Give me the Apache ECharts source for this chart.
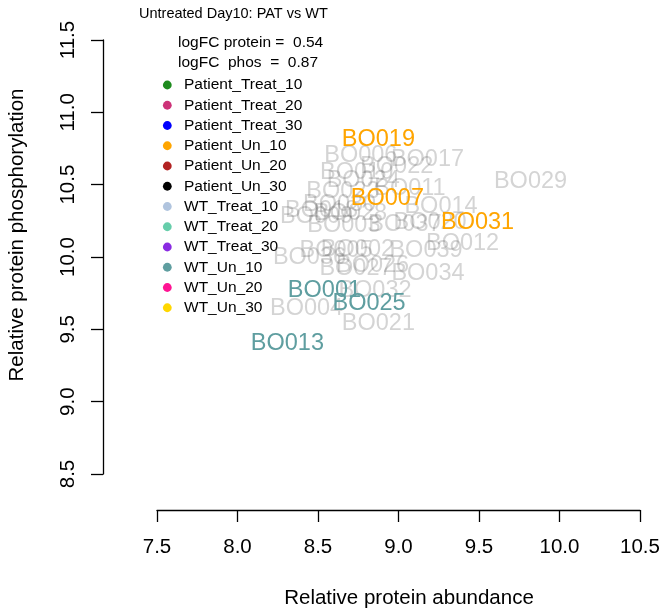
<!DOCTYPE html>
<html>
<head>
<meta charset="utf-8">
<script src="https://cdn.jsdelivr.net/npm/echarts@6/dist/echarts.min.js"></script>
<style>
html,body{margin:0;padding:0;background:#fff;}
#chart{width:664px;height:614px;}
</style>
</head>
<body>
<div id="chart"></div>
<script>
// ---- data ----
var titleText = 'Untreated Day10: PAT vs WT';
var statLines = ['logFC protein =  0.54', 'logFC  phos  =  0.87'];
var xTitle = 'Relative protein abundance';
var yTitle = 'Relative protein phosphorylation';

var legendNames = ['Patient_Treat_10','Patient_Treat_20','Patient_Treat_30','Patient_Un_10','Patient_Un_20','Patient_Un_30',
                   'WT_Treat_10','WT_Treat_20','WT_Treat_30','WT_Un_10','WT_Un_20','WT_Un_30'];
var legendColors = ['#1e8b1e','#cd3278','#0000ff','#ffa500','#b22222','#000000',
                    '#b0c4de','#66cdaa','#8a2be2','#5f9ea0','#ff1493','#ffd700'];

// other samples (grey)
var otherIds = ['BO006','BO017','BO022','BO010','BO024','BO011','BO023','BO029','BO014','BO030','BO018','BO009','BO028',
                'BO003','BO037','BO020','BO002','BO039','BO012','BO036','BO005','BO027','BO026','BO034','BO032','BO004','BO021'];
var otherX = [8.766,9.180,8.989,8.740,8.781,9.071,8.655,9.820,9.264,8.634,8.522,8.491,8.702,
              8.661,9.040,9.196,8.745,9.171,9.398,8.447,8.612,8.736,8.839,9.183,8.854,8.429,8.875];
var otherY = [10.703,10.675,10.627,10.587,10.530,10.475,10.451,10.523,10.347,10.364,10.323,10.278,10.302,
              10.219,10.226,10.240,10.055,10.046,10.093,9.994,10.046,9.922,9.943,9.887,9.766,9.642,9.542];

// Patient_Un_10
var patIds = ['BO019','BO007','BO031'];
var patX = [8.875,8.931,9.491];
var patY = [10.813,10.401,10.240];

// WT_Un_10
var wtIds = ['BO001','BO025','BO013'];
var wtX = [8.540,8.817,8.310];
var wtY = [9.770,9.680,9.400];

var xTicks = [7.5,8.0,8.5,9.0,9.5,10.0,10.5];
var yTicks = [8.5,9.0,9.5,10.0,10.5,11.0,11.5];

// ---- chart ----
var FONT = '"Liberation Sans", Arial, Helvetica, sans-serif';
function pts(ids, xs, ys){ return ids.map(function(id,i){ return [xs[i], ys[i], id]; }); }
function labelSeries(name, data, color){
  return {
    name: name, type: 'scatter', data: data, symbolSize: 1, silent: true,
    itemStyle: {color: 'rgba(0,0,0,0)', opacity: 1},
    label: {show: true, position: 'inside', formatter: function(p){ return p.data[2]; },
            fontSize: 23.5, fontFamily: FONT, color: color, opacity: 1},
    labelLayout: {hideOverlap: false},
    emphasis: {disabled: true}
  };
}

var chart = echarts.init(document.getElementById('chart'), null, {renderer: 'canvas'});

var graphics = [];
graphics.push({type:'text', left: 139, top: 6, style:{text: titleText, font: '14.5px ' + FONT, fill:'#000'}});
statLines.forEach(function(t,i){
  graphics.push({type:'text', x: 178, y: 43 + i*19.5, style:{text: t, font: '15.5px ' + FONT, fill:'#000', textVerticalAlign:'middle', verticalAlign:'middle'}});
});
legendNames.forEach(function(n,i){
  var cy = 85 + i*20.25;
  graphics.push({type:'circle', shape:{cx:167.3, cy:cy, r:4.4}, style:{fill: legendColors[i]}});
  graphics.push({type:'text', x: 184, y: cy, style:{text: n, font: '15.5px ' + FONT, fill:'#000', textVerticalAlign:'middle', verticalAlign:'middle'}});
});
graphics.push({type:'text', x: 409, y: 598, style:{text: xTitle, font: '20.5px ' + FONT, fill:'#000', textAlign:'center', align:'center', textVerticalAlign:'middle', verticalAlign:'middle'}});
graphics.push({type:'text', x: 17, y: 235, rotation: Math.PI/2, style:{text: yTitle, font: '20.5px ' + FONT, fill:'#000', textAlign:'center', align:'center', textVerticalAlign:'middle', verticalAlign:'middle'}});

var axisCommon = {
  axisLine: {show: true, lineStyle: {color:'#000', width: 1.3}},
  axisTick: {show: true, length: 12, lineStyle: {color:'#000', width: 1.3}},
  splitLine: {show: false},
  axisLabel: {fontSize: 20.5, fontFamily: FONT, color:'#000', formatter: function(v){ return v.toFixed(1); }}
};

chart.setOption({
  animation: false,
  backgroundColor: '#fff',
  grid: {left: 157, right: 24, top: 40, bottom: 140, containLabel: false},
  xAxis: Object.assign({}, axisCommon, {
    type: 'value', min: xTicks[0], max: xTicks[xTicks.length-1], interval: 0.5, offset: 36,
    axisLabel: Object.assign({}, axisCommon.axisLabel, {margin: 27, showMinLabel: true, showMaxLabel: true})
  }),
  yAxis: Object.assign({}, axisCommon, {
    type: 'value', min: yTicks[0], max: yTicks[yTicks.length-1], interval: 0.5, offset: 54,
    axisLabel: Object.assign({}, axisCommon.axisLabel, {rotate: 90, margin: 24, showMinLabel: true, showMaxLabel: true})
  }),
  graphic: graphics,
  series: [
    labelSeries('other', pts(otherIds, otherX, otherY), 'rgba(96,96,96,0.27)'),
    labelSeries('WT_Un_10', pts(wtIds, wtX, wtY), '#5f9ea0'),
    labelSeries('Patient_Un_10', pts(patIds, patX, patY), '#ffa500')
  ]
});
</script>
</body>
</html>
